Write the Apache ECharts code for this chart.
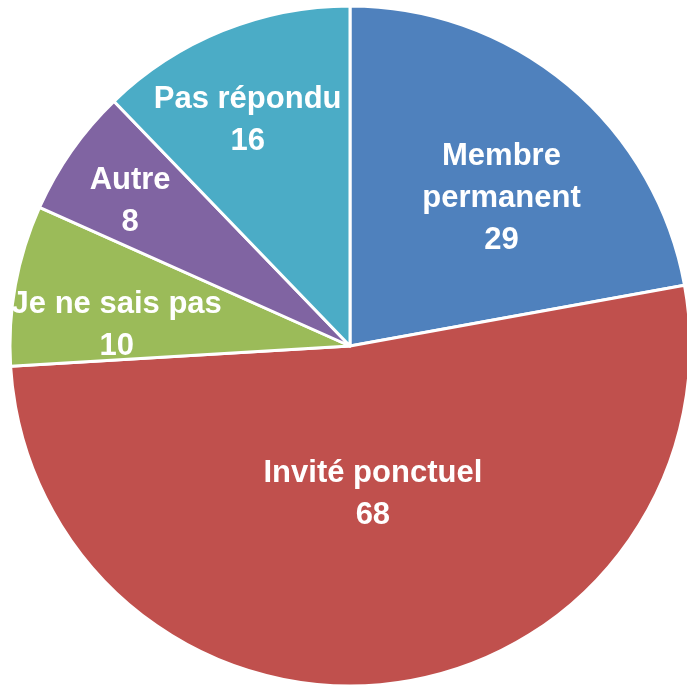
<!DOCTYPE html>
<html>
<head>
<meta charset="utf-8">
<script src="https://cdn.jsdelivr.net/npm/echarts@6/dist/echarts.min.js"></script>
<style>
  html, body { margin: 0; padding: 0; background: #fff; }
  #chart { width: 687px; height: 689px; }
</style>
</head>
<body>
<div id="chart"></div>
<script>
var categories = ['Membre\npermanent', 'Invité ponctuel', 'Je ne sais pas', 'Autre', 'Pas répondu'];
var values = [29, 68, 10, 8, 16];
var colors = ['#4F81BD', '#C0504D', '#9BBB59', '#8064A2', '#4BACC6'];

// where each label sits: angle (deg) and fraction of radius
var labelAngle = [45, -81, 174, 146, 114];
var labelRadius = [0.63, 0.43, 0.69, 0.78, 0.74];

var cx = 350, cy = 346, R = 340;

var myChart = echarts.init(document.getElementById('chart'));

var data = [];
for (var i = 0; i < values.length; i++) {
  data.push({ name: categories[i], value: values[i], itemStyle: { color: colors[i] } });
}

myChart.setOption({
  animation: false,
  series: [{
    type: 'pie',
    center: [cx, cy],
    radius: [0, R],
    startAngle: 90,
    clockwise: true,
    avoidLabelOverlap: false,
    itemStyle: { borderColor: '#fff', borderWidth: 3 },
    label: {
      show: true,
      position: 'inside',
      formatter: '{b}\n{c}',
      color: '#fff',
      fontFamily: '"Liberation Sans Narrow", "Arial Narrow", "Liberation Sans", Arial, sans-serif',
      fontWeight: 'bold',
      fontSize: 31,
      lineHeight: 42,
      overflow: 'none',
      align: 'center',
      verticalAlign: 'middle'
    },
    labelLine: { show: false },
    labelLayout: function (p) {
      var a = labelAngle[p.dataIndex] * Math.PI / 180;
      var r = labelRadius[p.dataIndex] * R;
      return { x: cx + r * Math.cos(a), y: cy + 4 - r * Math.sin(a), align: 'center', verticalAlign: 'middle' };
    },
    data: data
  }]
});
</script>
</body>
</html>
